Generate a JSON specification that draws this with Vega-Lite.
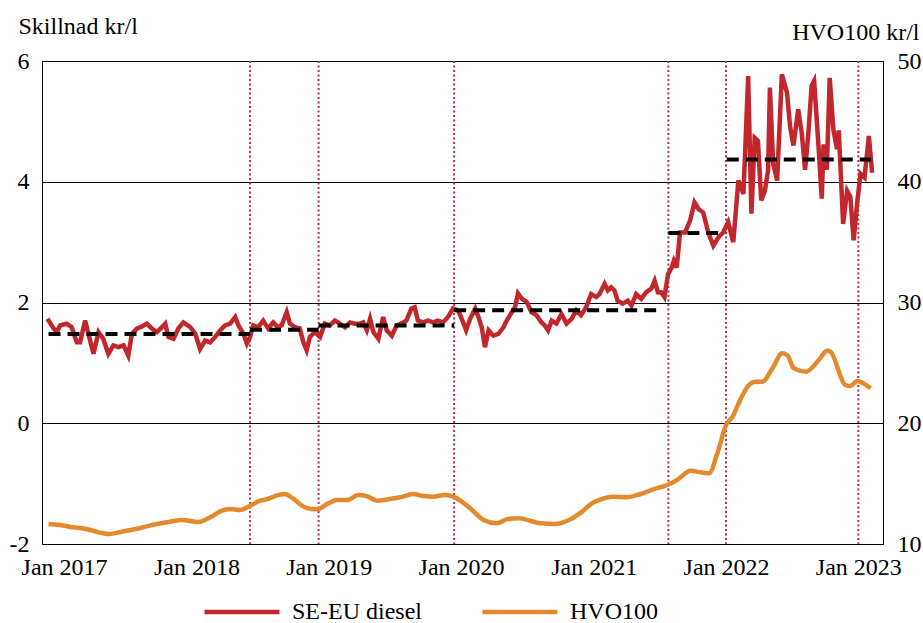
{
  "$schema": "https://vega.github.io/schema/vega-lite/v6.json",
  "width": 841,
  "height": 483,
  "autosize": {"type": "none"},
  "padding": {"left": 42, "top": 61, "right": 40, "bottom": 79},
  "background": "white",
  "config": {
    "font": "Liberation Serif",
    "view": {"stroke": "black", "strokeWidth": 1},
    "axis": {
      "labelFont": "Liberation Serif", "labelFontSize": 24, "labelColor": "black",
      "titleFont": "Liberation Serif", "titleFontSize": 24, "titleFontWeight": "normal", "titleColor": "black",
      "ticks": false, "domain": false
    },
    "legend": {
      "labelFont": "Liberation Serif", "labelFontSize": 24, "labelColor": "black"
    }
  },
  "datasets": {
    "events": [
      {"d": "2018-05-29"}, {"d": "2018-12-04"}, {"d": "2019-12-13"},
      {"d": "2021-07-26"}, {"d": "2022-01-01"}, {"d": "2023-01-01"}
    ],
    "avg": [
      {"start": "2016-11-19", "end": "2018-05-29", "v": 1.48},
      {"start": "2018-05-29", "end": "2018-12-04", "v": 1.55},
      {"start": "2018-12-04", "end": "2019-12-13", "v": 1.62},
      {"start": "2019-12-13", "end": "2021-07-03", "v": 1.87},
      {"start": "2021-07-26", "end": "2021-12-10", "v": 3.15},
      {"start": "2022-01-03", "end": "2023-02-05", "v": 4.37}
    ],
    "diesel": [
      {"d": "2016-11-16", "v": 1.73}, {"d": "2016-12-03", "v": 1.57}, {"d": "2016-12-12", "v": 1.51}, {"d": "2016-12-21", "v": 1.62},
      {"d": "2017-01-08", "v": 1.65}, {"d": "2017-01-22", "v": 1.59}, {"d": "2017-02-05", "v": 1.34}, {"d": "2017-02-14", "v": 1.34},
      {"d": "2017-02-28", "v": 1.70}, {"d": "2017-03-09", "v": 1.48}, {"d": "2017-03-23", "v": 1.15}, {"d": "2017-04-06", "v": 1.51},
      {"d": "2017-04-19", "v": 1.40}, {"d": "2017-05-03", "v": 1.15}, {"d": "2017-05-17", "v": 1.29}, {"d": "2017-05-31", "v": 1.26},
      {"d": "2017-06-14", "v": 1.29}, {"d": "2017-06-27", "v": 1.12}, {"d": "2017-07-07", "v": 1.48}, {"d": "2017-07-21", "v": 1.57},
      {"d": "2017-08-03", "v": 1.60}, {"d": "2017-08-17", "v": 1.65}, {"d": "2017-08-31", "v": 1.57}, {"d": "2017-09-14", "v": 1.51},
      {"d": "2017-09-28", "v": 1.59}, {"d": "2017-10-07", "v": 1.65}, {"d": "2017-10-16", "v": 1.43}, {"d": "2017-10-30", "v": 1.40},
      {"d": "2017-11-12", "v": 1.57}, {"d": "2017-11-26", "v": 1.67}, {"d": "2017-12-08", "v": 1.62}, {"d": "2017-12-15", "v": 1.59},
      {"d": "2017-12-29", "v": 1.48}, {"d": "2018-01-11", "v": 1.23}, {"d": "2018-01-25", "v": 1.37}, {"d": "2018-02-08", "v": 1.34},
      {"d": "2018-02-22", "v": 1.43}, {"d": "2018-03-08", "v": 1.54}, {"d": "2018-03-21", "v": 1.62}, {"d": "2018-04-04", "v": 1.65},
      {"d": "2018-04-18", "v": 1.76}, {"d": "2018-04-27", "v": 1.62}, {"d": "2018-05-11", "v": 1.48}, {"d": "2018-05-20", "v": 1.32},
      {"d": "2018-05-29", "v": 1.43}, {"d": "2018-06-07", "v": 1.62}, {"d": "2018-06-20", "v": 1.59}, {"d": "2018-07-04", "v": 1.70},
      {"d": "2018-07-18", "v": 1.57}, {"d": "2018-08-01", "v": 1.67}, {"d": "2018-08-14", "v": 1.59}, {"d": "2018-08-24", "v": 1.62},
      {"d": "2018-09-07", "v": 1.84}, {"d": "2018-09-16", "v": 1.65}, {"d": "2018-09-30", "v": 1.59}, {"d": "2018-10-13", "v": 1.57},
      {"d": "2018-10-23", "v": 1.34}, {"d": "2018-11-01", "v": 1.21}, {"d": "2018-11-10", "v": 1.43}, {"d": "2018-11-24", "v": 1.51},
      {"d": "2018-12-08", "v": 1.43}, {"d": "2018-12-21", "v": 1.65}, {"d": "2019-01-04", "v": 1.62}, {"d": "2019-01-18", "v": 1.70},
      {"d": "2019-02-01", "v": 1.65}, {"d": "2019-02-15", "v": 1.59}, {"d": "2019-03-01", "v": 1.67}, {"d": "2019-03-14", "v": 1.65},
      {"d": "2019-03-28", "v": 1.65}, {"d": "2019-04-06", "v": 1.67}, {"d": "2019-04-16", "v": 1.54}, {"d": "2019-04-25", "v": 1.73},
      {"d": "2019-05-04", "v": 1.51}, {"d": "2019-05-18", "v": 1.40}, {"d": "2019-05-31", "v": 1.76}, {"d": "2019-06-10", "v": 1.54},
      {"d": "2019-06-24", "v": 1.45}, {"d": "2019-07-07", "v": 1.62}, {"d": "2019-07-20", "v": 1.65}, {"d": "2019-08-03", "v": 1.70},
      {"d": "2019-08-17", "v": 1.90}, {"d": "2019-08-26", "v": 1.92}, {"d": "2019-09-04", "v": 1.70}, {"d": "2019-09-18", "v": 1.67},
      {"d": "2019-10-02", "v": 1.70}, {"d": "2019-10-16", "v": 1.67}, {"d": "2019-10-29", "v": 1.70}, {"d": "2019-11-12", "v": 1.67},
      {"d": "2019-11-26", "v": 1.76}, {"d": "2019-12-10", "v": 1.90}, {"d": "2019-12-24", "v": 1.87}, {"d": "2020-01-03", "v": 1.73},
      {"d": "2020-01-15", "v": 1.54}, {"d": "2020-01-26", "v": 1.73}, {"d": "2020-02-09", "v": 1.90}, {"d": "2020-02-18", "v": 1.76},
      {"d": "2020-02-27", "v": 1.59}, {"d": "2020-03-07", "v": 1.26}, {"d": "2020-03-17", "v": 1.54}, {"d": "2020-03-30", "v": 1.45},
      {"d": "2020-04-13", "v": 1.48}, {"d": "2020-04-27", "v": 1.59}, {"d": "2020-05-06", "v": 1.70}, {"d": "2020-05-20", "v": 1.84},
      {"d": "2020-05-29", "v": 1.92}, {"d": "2020-06-06", "v": 2.15}, {"d": "2020-06-17", "v": 2.06}, {"d": "2020-06-30", "v": 2.01},
      {"d": "2020-07-13", "v": 1.84}, {"d": "2020-07-27", "v": 1.79}, {"d": "2020-08-10", "v": 1.67}, {"d": "2020-08-19", "v": 1.62},
      {"d": "2020-08-28", "v": 1.54}, {"d": "2020-09-07", "v": 1.70}, {"d": "2020-09-20", "v": 1.65}, {"d": "2020-10-04", "v": 1.81},
      {"d": "2020-10-18", "v": 1.65}, {"d": "2020-11-01", "v": 1.73}, {"d": "2020-11-14", "v": 1.87}, {"d": "2020-11-27", "v": 1.79},
      {"d": "2020-12-11", "v": 1.92}, {"d": "2020-12-25", "v": 2.14}, {"d": "2021-01-08", "v": 2.09}, {"d": "2021-01-17", "v": 2.14},
      {"d": "2021-01-31", "v": 2.31}, {"d": "2021-02-09", "v": 2.20}, {"d": "2021-02-18", "v": 2.25}, {"d": "2021-02-27", "v": 2.20},
      {"d": "2021-03-08", "v": 2.03}, {"d": "2021-03-22", "v": 1.98}, {"d": "2021-04-05", "v": 2.03}, {"d": "2021-04-15", "v": 1.95},
      {"d": "2021-04-28", "v": 2.14}, {"d": "2021-05-12", "v": 2.06}, {"d": "2021-05-26", "v": 2.17}, {"d": "2021-06-09", "v": 2.23},
      {"d": "2021-06-18", "v": 2.36}, {"d": "2021-06-27", "v": 2.17}, {"d": "2021-07-06", "v": 2.17}, {"d": "2021-07-15", "v": 2.09},
      {"d": "2021-07-25", "v": 2.47}, {"d": "2021-08-04", "v": 2.58}, {"d": "2021-08-10", "v": 2.69}, {"d": "2021-08-18", "v": 2.58},
      {"d": "2021-08-27", "v": 3.16}, {"d": "2021-09-10", "v": 3.16}, {"d": "2021-09-24", "v": 3.36}, {"d": "2021-10-06", "v": 3.66},
      {"d": "2021-10-17", "v": 3.55}, {"d": "2021-10-30", "v": 3.49}, {"d": "2021-11-13", "v": 3.16}, {"d": "2021-11-27", "v": 2.94},
      {"d": "2021-12-11", "v": 3.08}, {"d": "2021-12-24", "v": 3.16}, {"d": "2022-01-07", "v": 3.33}, {"d": "2022-01-21", "v": 3.00},
      {"d": "2022-02-04", "v": 4.02}, {"d": "2022-02-18", "v": 3.80}, {"d": "2022-03-03", "v": 5.75}, {"d": "2022-03-12", "v": 3.47},
      {"d": "2022-03-21", "v": 4.73}, {"d": "2022-03-30", "v": 4.68}, {"d": "2022-04-08", "v": 3.69}, {"d": "2022-04-18", "v": 3.85},
      {"d": "2022-04-27", "v": 4.18}, {"d": "2022-05-02", "v": 5.56}, {"d": "2022-05-11", "v": 4.30}, {"d": "2022-05-22", "v": 4.02},
      {"d": "2022-06-04", "v": 5.78}, {"d": "2022-06-18", "v": 5.48}, {"d": "2022-06-27", "v": 4.90}, {"d": "2022-07-06", "v": 4.60},
      {"d": "2022-07-19", "v": 5.20}, {"d": "2022-07-29", "v": 4.80}, {"d": "2022-08-07", "v": 4.20}, {"d": "2022-08-16", "v": 4.79},
      {"d": "2022-08-25", "v": 5.59}, {"d": "2022-09-01", "v": 5.67}, {"d": "2022-09-13", "v": 4.60}, {"d": "2022-09-22", "v": 3.72},
      {"d": "2022-09-27", "v": 4.62}, {"d": "2022-10-06", "v": 4.20}, {"d": "2022-10-14", "v": 5.72}, {"d": "2022-10-24", "v": 4.87},
      {"d": "2022-11-03", "v": 4.54}, {"d": "2022-11-08", "v": 4.85}, {"d": "2022-11-20", "v": 3.30}, {"d": "2022-12-01", "v": 3.85},
      {"d": "2022-12-10", "v": 3.75}, {"d": "2022-12-19", "v": 3.03}, {"d": "2022-12-29", "v": 3.66}, {"d": "2023-01-07", "v": 4.13},
      {"d": "2023-01-18", "v": 4.07}, {"d": "2023-01-30", "v": 4.76}, {"d": "2023-02-08", "v": 4.15}
    ],
    "hvo": [
      {"d": "2016-11-19", "h": 11.66}, {"d": "2016-12-21", "h": 11.57}, {"d": "2017-01-26", "h": 11.38}, {"d": "2017-03-04", "h": 11.24},
      {"d": "2017-04-10", "h": 10.94}, {"d": "2017-05-03", "h": 10.83}, {"d": "2017-06-14", "h": 11.05}, {"d": "2017-07-30", "h": 11.33},
      {"d": "2017-09-14", "h": 11.66}, {"d": "2017-10-20", "h": 11.85}, {"d": "2017-11-22", "h": 11.99}, {"d": "2018-01-07", "h": 11.82},
      {"d": "2018-02-08", "h": 12.21}, {"d": "2018-03-12", "h": 12.76}, {"d": "2018-04-04", "h": 12.90}, {"d": "2018-05-02", "h": 12.82},
      {"d": "2018-05-29", "h": 13.15}, {"d": "2018-06-25", "h": 13.59}, {"d": "2018-07-14", "h": 13.70}, {"d": "2018-08-06", "h": 13.97},
      {"d": "2018-09-02", "h": 14.14}, {"d": "2018-09-25", "h": 13.75}, {"d": "2018-10-27", "h": 13.04}, {"d": "2018-11-29", "h": 12.87},
      {"d": "2018-12-31", "h": 13.37}, {"d": "2019-01-23", "h": 13.64}, {"d": "2019-02-20", "h": 13.64}, {"d": "2019-03-24", "h": 14.06},
      {"d": "2019-04-16", "h": 13.97}, {"d": "2019-05-14", "h": 13.59}, {"d": "2019-06-14", "h": 13.70}, {"d": "2019-07-17", "h": 13.87},
      {"d": "2019-08-22", "h": 14.14}, {"d": "2019-09-19", "h": 13.97}, {"d": "2019-10-17", "h": 13.92}, {"d": "2019-11-18", "h": 14.06},
      {"d": "2019-12-11", "h": 13.92}, {"d": "2019-12-30", "h": 13.60}, {"d": "2020-01-26", "h": 12.96}, {"d": "2020-03-03", "h": 11.99},
      {"d": "2020-04-09", "h": 11.71}, {"d": "2020-05-07", "h": 12.05}, {"d": "2020-06-08", "h": 12.13}, {"d": "2020-07-10", "h": 11.93},
      {"d": "2020-08-07", "h": 11.71}, {"d": "2020-09-17", "h": 11.66}, {"d": "2020-10-29", "h": 12.05}, {"d": "2020-11-30", "h": 12.68},
      {"d": "2020-12-27", "h": 13.37}, {"d": "2021-01-24", "h": 13.73}, {"d": "2021-02-21", "h": 13.92}, {"d": "2021-04-03", "h": 13.87},
      {"d": "2021-05-10", "h": 14.14}, {"d": "2021-06-16", "h": 14.55}, {"d": "2021-07-23", "h": 14.89}, {"d": "2021-08-19", "h": 15.30},
      {"d": "2021-09-25", "h": 16.07}, {"d": "2021-10-23", "h": 15.94}, {"d": "2021-11-15", "h": 15.85}, {"d": "2021-12-08", "h": 17.51},
      {"d": "2022-01-01", "h": 19.86}, {"d": "2022-01-19", "h": 20.54}, {"d": "2022-02-11", "h": 22.06}, {"d": "2022-03-05", "h": 23.17},
      {"d": "2022-03-23", "h": 23.44}, {"d": "2022-04-11", "h": 23.44}, {"d": "2022-05-09", "h": 24.55}, {"d": "2022-06-05", "h": 25.79},
      {"d": "2022-06-19", "h": 25.65}, {"d": "2022-07-07", "h": 24.55}, {"d": "2022-08-09", "h": 24.27}, {"d": "2022-09-14", "h": 25.24},
      {"d": "2022-10-07", "h": 26.01}, {"d": "2022-10-16", "h": 25.93}, {"d": "2022-11-26", "h": 23.17}, {"d": "2022-12-10", "h": 23.08},
      {"d": "2022-12-29", "h": 23.50}, {"d": "2023-01-12", "h": 23.36}, {"d": "2023-02-04", "h": 22.89}
    ]
  },
  "layer": [
    {
      "layer": [
        {
          "data": {"name": "events"},
          "mark": {"type": "rule", "color": "#a8323c", "strokeWidth": 2, "strokeDash": [2, 2.5]},
          "encoding": {
            "x": {
              "field": "d", "type": "temporal",
              "scale": {"domain": [{"year": 2016, "month": 11, "date": 1}, {"year": 2023, "month": 3, "date": 10}]},
              "axis": {"title": null, "format": "%b %Y", "tickCount": {"interval": "year", "step": 1}, "grid": false, "labelPadding": 11, "labelFlush": false, "labelOverlap": false}
            }
          }
        },
        {
          "data": {"name": "diesel"},
          "mark": {"type": "line", "strokeWidth": 4.5},
          "encoding": {
            "x": {"field": "d", "type": "temporal", "axis": {"title": null, "format": "%b %Y", "tickCount": {"interval": "year", "step": 1}, "grid": false, "labelPadding": 11, "labelFlush": false, "labelOverlap": false}},
            "y": {
              "field": "v", "type": "quantitative",
              "scale": {"domain": [-2, 6], "nice": false, "zero": false},
              "axis": {"title": "Skillnad kr/l", "values": [-2, 0, 2, 4, 6], "labelExpr": "'' + datum.value", "grid": true, "gridColor": "black", "gridWidth": 1, "gridOpacity": 1, "labelPadding": 13, "titleAngle": 0, "titleAlign": "left", "titleBaseline": "alphabetic", "titleX": -24, "titleY": -28}
            },
            "color": {
              "datum": "SE-EU diesel", "type": "nominal",
              "scale": {"domain": ["SE-EU diesel", "HVO100"], "range": ["#c1272d", "#e38a2e"]},
              "legend": {"title": null, "orient": "none", "direction": "horizontal", "legendX": 160, "legendY": 511, "symbolType": "stroke", "symbolSize": 5625, "symbolStrokeWidth": 4.5, "labelOffset": 10, "columnPadding": 51, "padding": 0, "labelFont": "Liberation Serif", "labelFontSize": 24, "labelColor": "black", "labelLimit": 300}
            }
          }
        },
        {
          "data": {"name": "avg"},
          "mark": {"type": "rule", "color": "black", "strokeWidth": 4, "strokeDash": [12, 7]},
          "encoding": {
            "x": {"field": "start", "type": "temporal", "axis": {"title": null, "format": "%b %Y", "tickCount": {"interval": "year", "step": 1}, "grid": false, "labelPadding": 11, "labelFlush": false, "labelOverlap": false}},
            "x2": {"field": "end"},
            "y": {"field": "v", "type": "quantitative", "axis": {"title": "Skillnad kr/l", "values": [-2, 0, 2, 4, 6], "labelExpr": "'' + datum.value", "grid": true, "gridColor": "black", "gridWidth": 1, "gridOpacity": 1, "labelPadding": 13, "titleAngle": 0, "titleAlign": "left", "titleBaseline": "alphabetic", "titleX": -24, "titleY": -28}}
          }
        }
      ]
    },
    {
      "data": {"name": "hvo"},
      "mark": {"type": "line", "strokeWidth": 4.5, "interpolate": "monotone"},
      "encoding": {
        "x": {"field": "d", "type": "temporal", "axis": {"title": null, "format": "%b %Y", "tickCount": {"interval": "year", "step": 1}, "grid": false, "labelPadding": 11, "labelFlush": false, "labelOverlap": false}},
        "y": {
          "field": "h", "type": "quantitative",
          "scale": {"domain": [10, 50], "nice": false, "zero": false},
          "axis": {"orient": "right", "title": "HVO100 kr/l", "values": [10, 20, 30, 40, 50], "grid": false, "labelPadding": 14, "titleAngle": 0, "titleAlign": "right", "titleBaseline": "alphabetic", "titleX": 36, "titleY": -22}
        },
        "color": {"datum": "HVO100", "type": "nominal"}
      }
    }
  ],
  "resolve": {"scale": {"y": "independent"}}
}
